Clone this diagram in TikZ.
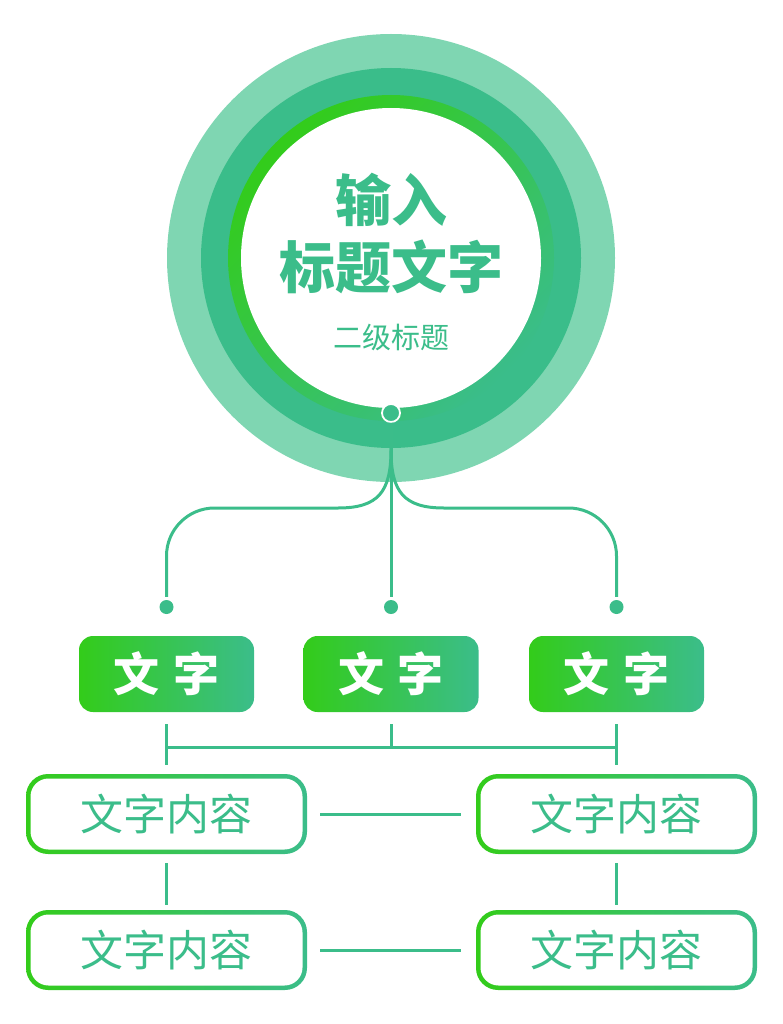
\documentclass[tikz,border=0pt]{standalone}
\usepackage{fontspec}
\newfontfamily\cjk{Noto Sans CJK SC}
\definecolor{lightring}{HTML}{7FD6B2}
\definecolor{darkring}{HTML}{3ABD8A}
\definecolor{leaf}{HTML}{33CC1A}
\definecolor{mint}{HTML}{3BBD8A}

\begin{document}
\begin{tikzpicture}[x=1pt, y=-1pt]
        \tikzstyle{every node}=[inner sep=0pt, font=\cjk]
        \tikzstyle{link}=[draw=mint, line width=3pt]
        \tikzstyle{dot}=[circle, fill=mint, minimum size=14pt]
        \tikzstyle{head}=[rounded corners=14pt, minimum width=175pt, minimum height=76pt, left color=leaf, right color=mint, text=white, font=\cjk\bfseries\fontsize{46}{50}\selectfont]
        \tikzstyle{frame}=[rounded corners=22pt, minimum width=281pt, minimum height=80pt, left color=leaf, right color=mint]
        \tikzstyle{body}=[fill=white, rounded corners=18pt, minimum width=272pt, minimum height=71pt, text=mint, font=\cjk\fontsize{43}{46}\selectfont]
        \useasboundingbox (0,0) rectangle (783,1024);
        \node [circle, fill=lightring, minimum size=448pt] (ring) at (391,258) {};
        \node [circle, fill=darkring, minimum size=380pt] (band) at (391,258) {};
        \node [circle, top color=leaf, bottom color=darkring, shading angle=45, minimum size=326pt] (glow) at (391,258) {};
        \node [circle, fill=white, minimum size=300pt] (core) at (391,258) {};
        \node [text=mint, font=\cjk\bfseries\fontsize{56}{60}\selectfont] (t1) at (391,200) {输入};
        \node [text=mint, font=\cjk\bfseries\fontsize{56}{60}\selectfont] (t2) at (391,267) {标题文字};
        \node [text=mint, font=\cjk\fontsize{29}{32}\selectfont] (t3) at (391,337) {二级标题};
        \node [dot, minimum size=18pt, draw=white, line width=1.8pt] (hd) at (391,413) {};
        \foreach \n/\x in {1/166.5,2/391,3/616.5} \node [dot] (d\n) at (\x,607) {};
        \foreach \n/\x in {1/166.5,2/391,3/616.5} \node [head] (h\n) at (\x,674) {文\hspace{14pt}字};
        \node [frame] (c11) at (166.5,814) {}; \node [body] (b11) at (c11) {文字内容};
        \node [frame] (c12) at (616.5,814) {}; \node [body] (b12) at (c12) {文字内容};
        \node [frame] (c21) at (166.5,950) {}; \node [body] (b21) at (c21) {文字内容};
        \node [frame] (c22) at (616.5,950) {}; \node [body] (b22) at (c22) {文字内容};
        \draw [link, shorten >=3pt] (hd) -- (d2);
        \draw [link, shorten >=3pt] (hd) -- (391,450) .. controls (391,492) and (378,508) .. (338,508) [rounded corners=48pt] -- (166.5,508) -- (d1);
        \draw [link, shorten >=3pt] (hd) -- (391,450) .. controls (391,492) and (404,508) .. (444,508) [rounded corners=48pt] -- (616.5,508) -- (d3);
        \coordinate (bl) at (166.5,747); \coordinate (bm) at (391,747); \coordinate (br) at (616.5,747);
        \draw [link] (bl) -- (br);
        \draw [link, shorten <=12pt] (h2) -- (bm);
        \draw [link, shorten <=12pt, shorten >=9pt] (h1) -- (c11);
        \draw [link, shorten <=12pt, shorten >=9pt] (h3) -- (c12);
        \draw [link, shorten <=13pt, shorten >=15pt] (c11) -- (c12);
        \draw [link, shorten <=13pt, shorten >=15pt] (c21) -- (c22);
        \draw [link, shorten <=9pt, shorten >=5pt] (c11) -- (c21);
        \draw [link, shorten <=9pt, shorten >=5pt] (c12) -- (c22);
    \end{tikzpicture}
\end{document}
